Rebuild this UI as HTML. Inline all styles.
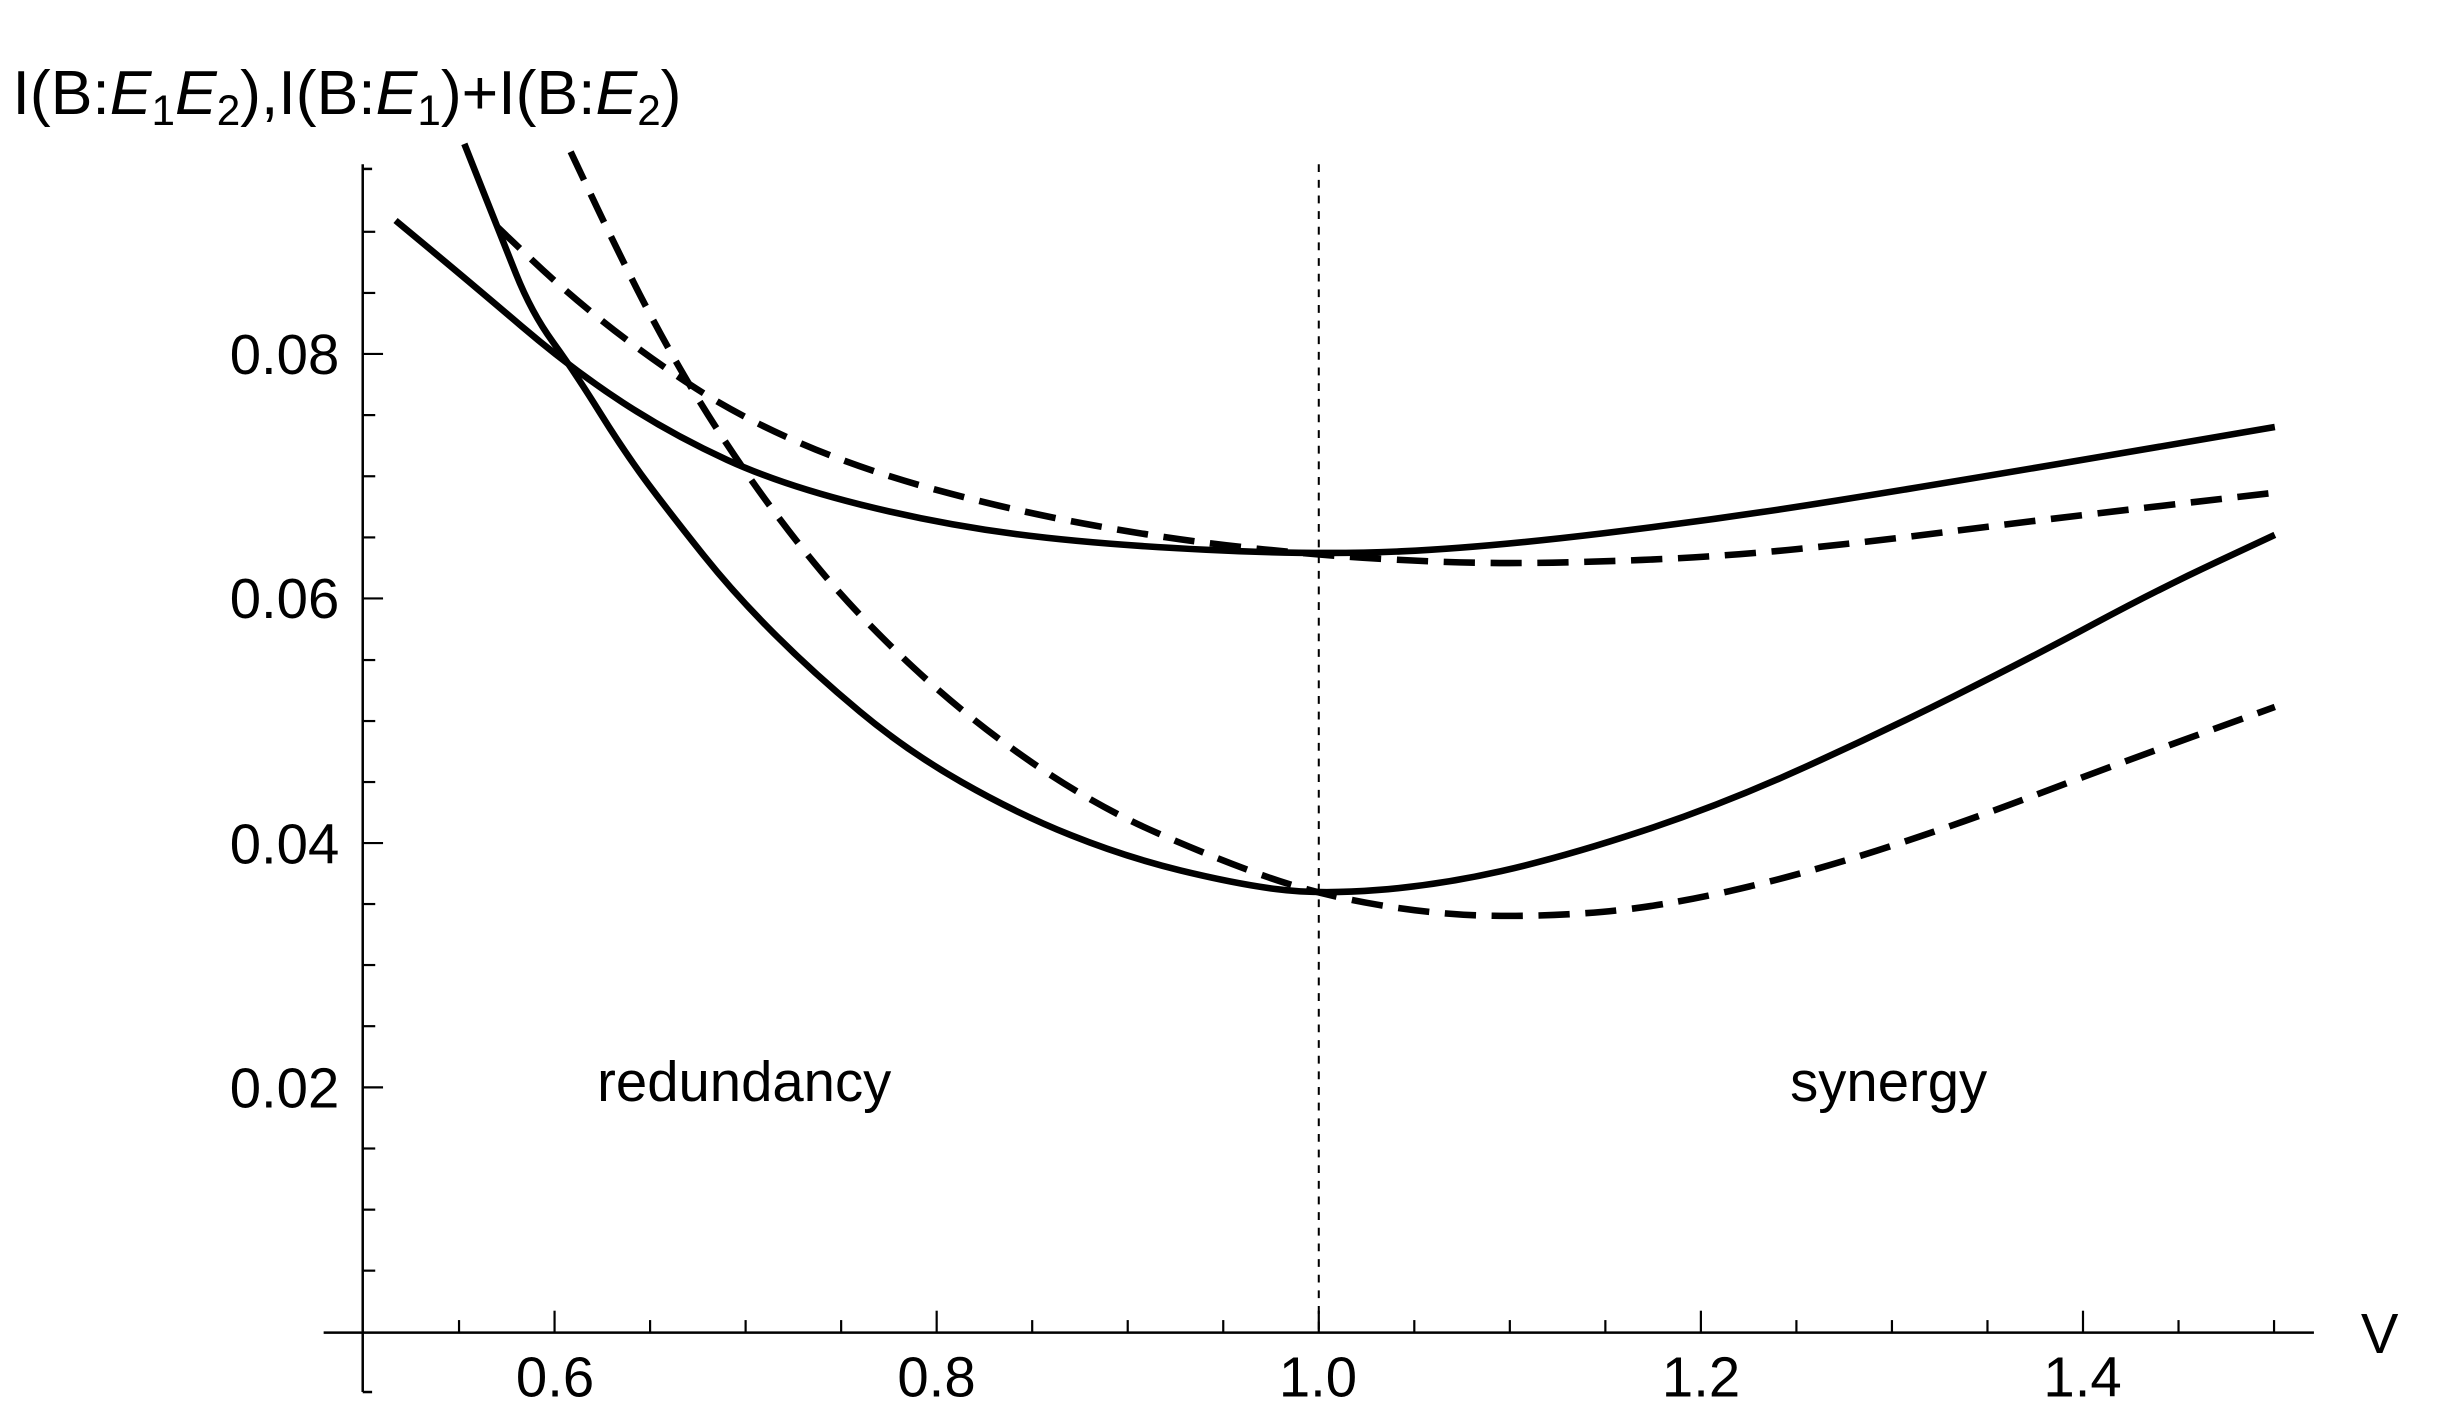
<!DOCTYPE html>
<html><head><meta charset="utf-8"><style>html,body{margin:0;padding:0;background:#fff;}svg{display:block}</style></head>
<body>
<svg width="2439" height="1428" viewBox="0 0 1560 913" preserveAspectRatio="none" xmlns="http://www.w3.org/2000/svg" font-family="Liberation Sans, Arial, sans-serif">
<rect width="1560" height="913" fill="#fff"/>
<g stroke="#000" stroke-width="1.6" fill="none">
<line x1="232" y1="105" x2="232" y2="890"/>
<line x1="207" y1="852" x2="1480" y2="852"/>
<line x1="232" y1="890" x2="238" y2="890"/>
<line x1="232" y1="108" x2="238" y2="108"/>
</g>
<g stroke="#000" stroke-width="1.4">
<line x1="232" y1="812.4" x2="240" y2="812.4"/><line x1="232" y1="773.4" x2="240" y2="773.4"/><line x1="232" y1="734.3" x2="240" y2="734.3"/>
<line x1="232" y1="695.2" x2="245" y2="695.2"/>
<line x1="232" y1="656.1" x2="240" y2="656.1"/><line x1="232" y1="617" x2="240" y2="617"/><line x1="232" y1="578" x2="240" y2="578"/>
<line x1="232" y1="539" x2="245" y2="539"/>
<line x1="232" y1="500" x2="240" y2="500"/><line x1="232" y1="461" x2="240" y2="461"/><line x1="232" y1="422" x2="240" y2="422"/>
<line x1="232" y1="382.6" x2="245" y2="382.6"/>
<line x1="232" y1="343.6" x2="240" y2="343.6"/><line x1="232" y1="304.5" x2="240" y2="304.5"/><line x1="232" y1="265.4" x2="240" y2="265.4"/>
<line x1="232" y1="226.3" x2="245" y2="226.3"/>
<line x1="232" y1="187.3" x2="240" y2="187.3"/><line x1="232" y1="148.2" x2="240" y2="148.2"/>
<line x1="293.6" y1="852" x2="293.6" y2="844"/><line x1="354.7" y1="852" x2="354.7" y2="838"/>
<line x1="415.8" y1="852" x2="415.8" y2="844"/><line x1="476.9" y1="852" x2="476.9" y2="844"/><line x1="538" y1="852" x2="538" y2="844"/>
<line x1="599.1" y1="852" x2="599.1" y2="838"/>
<line x1="660.2" y1="852" x2="660.2" y2="844"/><line x1="721.3" y1="852" x2="721.3" y2="844"/><line x1="782.4" y1="852" x2="782.4" y2="844"/>
<line x1="843.5" y1="852" x2="843.5" y2="838"/>
<line x1="904.6" y1="852" x2="904.6" y2="844"/><line x1="965.7" y1="852" x2="965.7" y2="844"/><line x1="1026.8" y1="852" x2="1026.8" y2="844"/>
<line x1="1087.9" y1="852" x2="1087.9" y2="838"/>
<line x1="1149" y1="852" x2="1149" y2="844"/><line x1="1210.1" y1="852" x2="1210.1" y2="844"/><line x1="1271.2" y1="852" x2="1271.2" y2="844"/>
<line x1="1332.3" y1="852" x2="1332.3" y2="838"/>
<line x1="1393.4" y1="852" x2="1393.4" y2="844"/><line x1="1454.5" y1="852" x2="1454.5" y2="844"/>
</g>
<line x1="843.5" y1="105" x2="843.5" y2="852" stroke="#000" stroke-width="1.3" stroke-dasharray="5,5"/>
<g font-size="36" fill="#000">
<text x="217" y="239" text-anchor="end">0.08</text>
<text x="217" y="395" text-anchor="end">0.06</text>
<text x="217" y="552" text-anchor="end">0.04</text>
<text x="217" y="708" text-anchor="end">0.02</text>
<text x="355" y="893" text-anchor="middle">0.6</text>
<text x="599" y="893" text-anchor="middle">0.8</text>
<text x="843" y="893" text-anchor="middle">1.0</text>
<text x="1088" y="893" text-anchor="middle">1.2</text>
<text x="1332" y="893" text-anchor="middle">1.4</text>
<text x="1510" y="865">V</text>
<text x="476" y="704" text-anchor="middle">redundancy</text>
<text x="1208" y="704" text-anchor="middle">synergy</text>
<text x="8" y="73" font-size="40">I(B:<tspan font-style="italic">E</tspan><tspan font-size="27" dy="7">1</tspan><tspan font-style="italic" dy="-7">E</tspan><tspan font-size="27" dy="7">2</tspan><tspan dy="-7">),I(B:</tspan><tspan font-style="italic">E</tspan><tspan font-size="27" dy="7">1</tspan><tspan dy="-7">)+I(B:</tspan><tspan font-style="italic">E</tspan><tspan font-size="27" dy="7">2</tspan><tspan dy="-7">)</tspan></text>
</g>
<g fill="none" stroke="#000" stroke-width="4.2" stroke-linejoin="round">
<path d="M253,141 L276.5,160.5 Q300,180 333.5,208.5 Q367,237 398.5,257.5 Q430,278 465,294 Q500,310 550,322.5 Q600,335 650,341.5 Q700,348 771.5,351.5 Q843,355 896.5,352.5 Q950,350 1025,341 Q1100,332 1175,320 Q1250,308 1352.5,290.5 L1455,273"/>
<path d="M297,92 L308.5,121 Q320,150 330,175 Q340,200 353.5,218.5 Q367,237 383.5,263.5 Q400,290 415,310 Q430,330 450,355 Q470,380 495,405 Q520,430 550,455 Q580,480 615,500 Q650,520 685,534 Q720,548 755,556.5 Q790,565 816.5,568.5 Q843,572 881.5,569 Q920,566 960,557 Q1000,548 1050,531.5 Q1100,515 1150,492.5 Q1200,470 1250,445 Q1300,420 1340,398.5 Q1380,377 1417.5,359.5 L1455,342"/>
<path stroke-dasharray="20,10" d="M318,145 L339,165 Q360,185 385,205 Q410,225 440,245 Q470,265 510,282.5 Q550,300 600,313.5 Q650,327 700,336 Q750,345 796.5,350 Q843,355 886.5,357.5 Q930,360 965,360 Q1000,360 1050,358 Q1100,356 1150,351 Q1200,346 1250,339.5 Q1300,333 1377.5,324 L1455,315"/>
<path stroke-dasharray="20,10" d="M365,97 L377.5,123.5 Q390,150 405,180 Q420,210 437.5,240 Q455,270 477.5,302.5 Q500,335 525,365 Q550,395 585,427.5 Q620,460 660,487.5 Q700,515 740,532.5 Q780,550 811.5,561 Q843,572 881.5,578.5 Q920,585 955,585.5 Q990,586 1025,583 Q1060,580 1105,570 Q1150,560 1200,544 Q1250,528 1300,509 Q1350,490 1402.5,471 L1455,452"/>
</g>
</svg>
</body></html>
